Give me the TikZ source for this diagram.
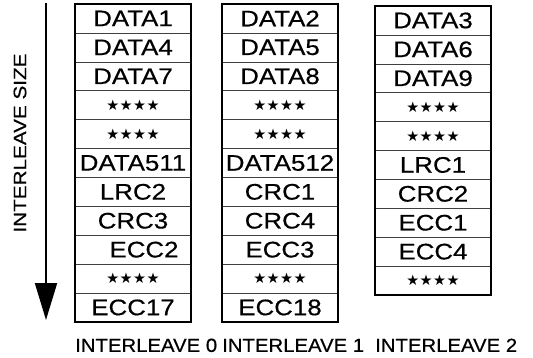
\documentclass[tikz,border=0pt]{standalone}
\usepackage{fontspec}
\setmainfont{Liberation Sans}
\newfontfamily\boxfont[FakeStretch=1.15, FakeBold=0.5]{Liberation Sans}
\newfontfamily\labelfont[FakeStretch=1.07, FakeBold=0.5]{Liberation Sans}
\newfontfamily\starfont{DejaVu Sans}
\usetikzlibrary{positioning,arrows.meta}

\newcommand{\stars}{{\starfont\fontsize{14.5}{14.5}\selectfont ★\kern0.5pt★\kern0.5pt★\kern0.5pt★}}

\begin{document}
\begin{tikzpicture}[x=1pt, y=1pt,
    cell/.style={rectangle, draw=black!75, densely dotted, line width=0.5pt, minimum width=116pt, minimum height=28.9pt, inner sep=0pt, outer sep=0pt, font=\boxfont\fontsize{22.5}{23}\selectfont},
    frame/.style={draw, line width=1.3pt},
    caption/.style={inner sep=0pt, font=\labelfont\fontsize{19}{20}\selectfont},
    sizearrow/.style={line width=2pt, -{Triangle[width=22pt, length=37pt]}}]

    \useasboundingbox (0,0) rectangle (533,357);

    % Interleave 0
    \node[cell] (a1) at (133,338.55) {DATA1};
    \node[cell, below=0pt of a1] (a2) {DATA4};
    \node[cell, below=0pt of a2] (a3) {DATA7};
    \node[cell, below=0pt of a3] (a4) {\stars};
    \node[cell, below=0pt of a4] (a5) {\stars};
    \node[cell, below=0pt of a5] (a6) {DATA511};
    \node[cell, below=0pt of a6] (a7) {LRC2};
    \node[cell, below=0pt of a7] (a8) {CRC3};
    \node[cell, below=0pt of a8] (a9) {\hspace*{22pt}ECC2};
    \node[cell, below=0pt of a9] (a10) {\stars};
    \node[cell, below=0pt of a10] (a11) {ECC17};
    \draw[frame] (a1.north west) rectangle (a11.south east);

    % Interleave 1
    \node[cell] (b1) at (280,338.55) {DATA2};
    \node[cell, below=0pt of b1] (b2) {DATA5};
    \node[cell, below=0pt of b2] (b3) {DATA8};
    \node[cell, below=0pt of b3] (b4) {\stars};
    \node[cell, below=0pt of b4] (b5) {\stars};
    \node[cell, below=0pt of b5] (b6) {DATA512};
    \node[cell, below=0pt of b6] (b7) {CRC1};
    \node[cell, below=0pt of b7] (b8) {CRC4};
    \node[cell, below=0pt of b8] (b9) {ECC3};
    \node[cell, below=0pt of b9] (b10) {\stars};
    \node[cell, below=0pt of b10] (b11) {ECC18};
    \draw[frame] (b1.north west) rectangle (b11.south east);

    % Interleave 2
    \node[cell] (c1) at (433,336.55) {DATA3};
    \node[cell, below=0pt of c1] (c2) {DATA6};
    \node[cell, below=0pt of c2] (c3) {DATA9};
    \node[cell, below=0pt of c3] (c4) {\stars};
    \node[cell, below=0pt of c4] (c5) {\stars};
    \node[cell, below=0pt of c5] (c6) {LRC1};
    \node[cell, below=0pt of c6] (c7) {CRC2};
    \node[cell, below=0pt of c7] (c8) {ECC1};
    \node[cell, below=0pt of c8] (c9) {ECC4};
    \node[cell, below=0pt of c9] (c10) {\stars};
    \draw[frame] (c1.north west) rectangle (c10.south east);

    % Labels
    \node[caption, anchor=base west] (l0) at ([yshift=-30pt]a11.south west) {INTERLEAVE 0};
    \node[caption, anchor=base west] (l1) at ([yshift=-30pt]b11.south west) {INTERLEAVE 1};
    \node[caption, anchor=base west] (l2) at (c10.south west |- l0.base) {INTERLEAVE 2};
    \node[caption, font=\boxfont\fontsize{18}{19}\selectfont, rotate=90] (size) at (20,214) {INTERLEAVE SIZE};

    % Size arrow
    \coordinate (top) at (46,354);
    \coordinate (tip) at (46,37);
    \draw[sizearrow] (top) -- (tip);
\end{tikzpicture}
\end{document}
